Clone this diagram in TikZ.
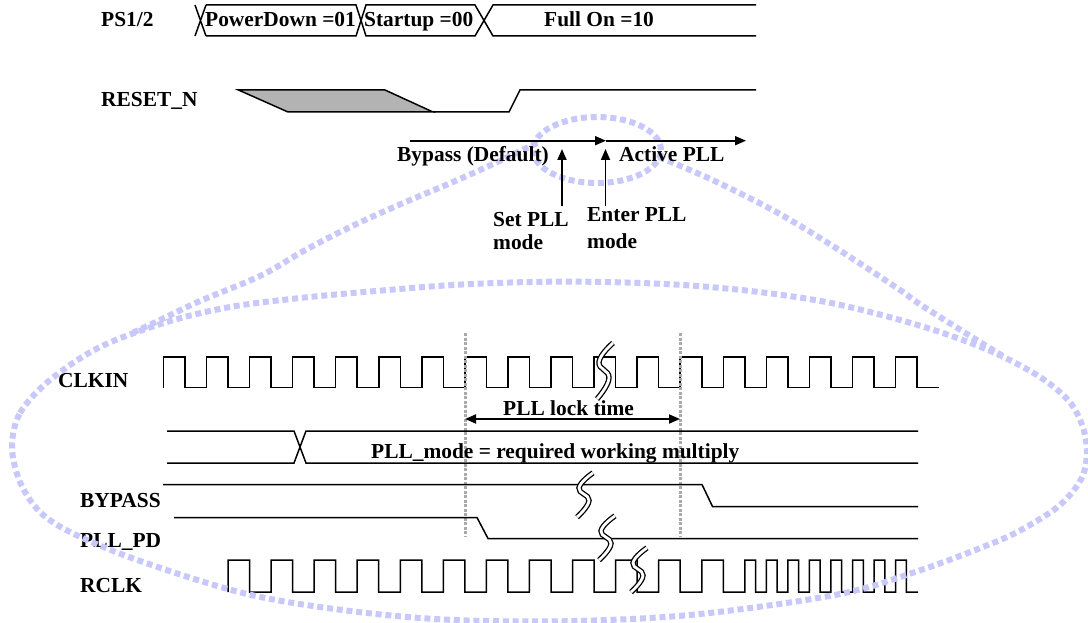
\documentclass[tikz,border=0pt]{standalone}
\usepackage{fontspec}
\setmainfont{Liberation Serif}
\usetikzlibrary{arrows.meta}
\definecolor{lassoblue}{RGB}{200,200,250}
\definecolor{shade}{RGB}{179,179,179}
\definecolor{dotgray}{RGB}{170,170,170}
\tikzset{
  brk/.pic={
    \draw[line width=5.4pt, black] plot[smooth, tension=0.8] coordinates {(9,-28) (-5,-9) (5,7) (-7,28)};
    \draw[line width=2.8pt, white] plot[smooth, tension=0.8] coordinates {(9,-28) (-5,-9) (5,7) (-7,28)};
  }
}
\begin{document}
\begin{tikzpicture}[x=1pt,y=-1pt,
  sig/.style={line width=1.5pt, line join=miter},
  lbl/.style={font=\fontsize{21.4}{25}\selectfont\bfseries, inner sep=0pt, anchor=base west},
  arr/.style={line width=1.8pt, -{Triangle[length=11pt,width=9pt]}},
  dbl/.style={line width=1.8pt, {Triangle[length=11pt,width=9pt]}-{Triangle[length=11pt,width=9pt]}},
  vdot/.style={line width=3pt, dotgray, dash pattern=on 3pt off 1.5pt},
  lasso/.style={line width=6pt, lassoblue, dash pattern=on 6pt off 3.8pt}]
\useasboundingbox (0,0) rectangle (1088,623);

% ---------- PS1/2 bus ----------
\node[lbl] (ps) at (101,27) {PS1/2};
\draw[sig] (195,5) -- (206,36) (195,36) -- (206,5);
\draw[sig] (206,5) -- (356,5) -- (366,36) -- (475,36) -- (493,5) -- (756,5);
\draw[sig] (206,36) -- (356,36) -- (366,5) -- (475,5) -- (493,36) -- (756,36);
\node[lbl] (pd) at (205,27) {PowerDown =01};
\node[lbl] (su) at (364,27) {Startup =00};
\node[lbl] (fo) at (544,27) {Full On =10};

% ---------- RESET_N ----------
\node[lbl] (rst) at (101,107) {RESET\_N};
\filldraw[sig, fill=shade] (238.5,90) -- (385,90) -- (433,112) -- (288,112) -- cycle;
\draw[sig] (433,112) -- (509,112) -- (520,90) -- (756,90);

% ---------- CLKIN ----------
\node[lbl] (clkin) at (58,387) {CLKIN};
\draw[sig] (163.4,387.5) \foreach \k in {0,...,17}{ -- ({163.4+43.07*\k},357) -- ({184.93+43.07*\k},357) -- ({184.93+43.07*\k},387.5) -- ({206.47+43.07*\k},387.5)};

% ---------- dotted markers ----------
\coordinate (d1t) at (465,333); \coordinate (d1b) at (465,537);
\coordinate (d2t) at (680,333); \coordinate (d2b) at (680,537);
\draw[vdot] (d1t) -- (d1b);
\draw[vdot] (d2t) -- (d2b);

% ---------- PLL lock time ----------
\coordinate (lockL) at (465,419); \coordinate (lockR) at (680,419);
\draw[dbl] (lockL) -- (lockR);
\node[lbl] (lock) at (503,415) {PLL lock time};

% ---------- PLL_mode bus ----------
\draw[sig] (167,431) -- (294,431) -- (306,463) -- (918,463);
\draw[sig] (167,463) -- (294,463) -- (306,431) -- (918,431);
\node[lbl] (mode) at (371,458) {PLL\_mode = required working multiply};

% ---------- BYPASS / PLL_PD ----------
\node[lbl] (bypass) at (80,507) {BYPASS};
\draw[sig] (163,484.5) -- (702,484.5) -- (712.5,506.5) -- (918,506.5);
\node[lbl] (pllpd) at (80,547) {PLL\_PD};
\draw[sig] (174,517.5) -- (477,517.5) -- (488,538.5) -- (918,538.5);

% ---------- RCLK ----------
\node[lbl] (rclk) at (80,592) {RCLK};
\draw[sig] (228,592) \foreach \k in {0,...,11}{ -- ({228+43.07*\k},560) -- ({249.53+43.07*\k},560) -- ({249.53+43.07*\k},592) -- ({271.07+43.07*\k},592)}
  \foreach \j in {0,...,7}{ -- ({744.84+21.535*\j},560) -- ({755.6+21.535*\j},560) -- ({755.6+21.535*\j},592) -- ({766.37+21.535*\j},592)} -- (918,592);

% ---------- breaks ----------
\pic at (604,371) {brk};
\pic[yscale=0.79] at (584,495) {brk};
\pic[yscale=0.79] at (606,538) {brk};
\pic[yscale=0.79] at (638,570) {brk};

% ---------- lasso ----------
\draw[lasso] plot[smooth cycle, tension=0.55] coordinates {(12,447) (20,413) (50,380) (100,347) (167,322) (230,307) (300,298) (376,291) (453,285) (530,282) (606,282) (683,285) (759,292) (836,304) (921,326) (988,350) (1040,377) (1072,405) (1086,440) (1083,475) (1060,505) (1021,530) (988,545) (921,570) (840,594) (700,614) (576,621) (454,620) (350,611) (247,594) (143,562) (74,534) (40,512) (20,482)};
\draw[lasso] (597,150) ellipse [x radius=64pt, y radius=33pt];
\draw[lasso] plot[smooth, tension=0.6] coordinates {(537,143) (514,154) (491,165) (453,182) (415,198) (376,215) (338,233) (300,253) (260,276) (200,301) (160,320) (130,334)};
\draw[lasso] plot[smooth, tension=0.6] coordinates {(659,157) (683,167) (721,184) (778,213) (836,248) (900,290) (921,305) (988,347) (1005,357)};

% ---------- mode arrows ----------
\coordinate (hA) at (410,140.7); \coordinate (hB) at (606,140.7); \coordinate (hC) at (746,140.7);
\draw[arr] (hA) -- (hB);
\draw[arr] (hB) -- (hC);
\node[lbl] (byp) at (397,162) {Bypass (Default)};
\node[lbl] (act) at (619,162) {Active PLL};
\coordinate (setB) at (562,206); \coordinate (setT) at (562,149);
\coordinate (entB) at (605.5,206); \coordinate (entT) at (605.5,149);
\draw[arr] (setB) -- (setT);
\draw[arr] (entB) -- (entT);
\node[lbl] (set1) at (493,226) {Set PLL};
\node[lbl] (set2) at (493,250) {mode};
\node[lbl] (ent1) at (587,222) {Enter PLL};
\node[lbl] (ent2) at (587,248) {mode};
\end{tikzpicture}
\end{document}
